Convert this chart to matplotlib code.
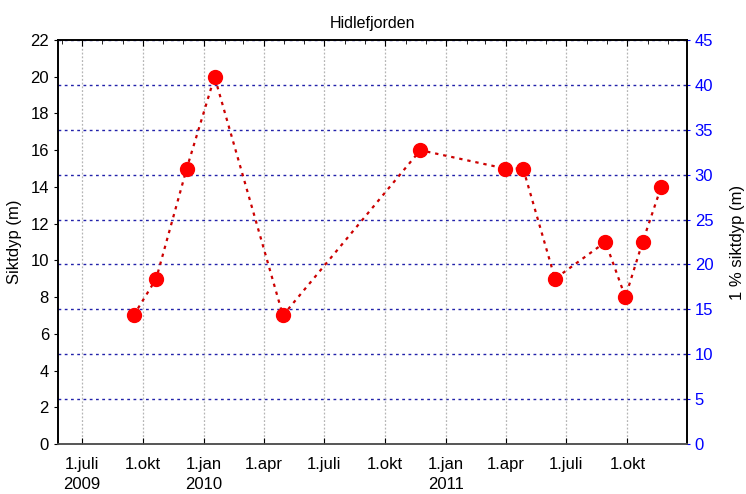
import datetime as dt
import matplotlib
matplotlib.use("Agg")
import matplotlib.pyplot as plt
import matplotlib.dates as mdates
from matplotlib.ticker import MultipleLocator, FixedLocator, FixedFormatter

plt.rcParams['font.family'] = ['Liberation Sans', 'DejaVu Sans']

# Siktdyp measurements, Hidlefjorden
dates = ["2009-09-17", "2009-10-21", "2009-12-06", "2010-01-17", "2010-04-30",
         "2010-11-23", "2011-03-31", "2011-04-27", "2011-06-14", "2011-08-29",
         "2011-09-28", "2011-10-24", "2011-11-21"]
siktdyp = [7, 9, 15, 20, 7, 16, 15, 15, 9, 11, 8, 11, 14]

tick_dates = ["2009-07-01", "2009-10-01", "2010-01-01", "2010-04-01", "2010-07-01",
              "2010-10-01", "2011-01-01", "2011-04-01", "2011-07-01", "2011-10-01"]
tick_labels = ["1.juli\n2009", "1.okt", "1.jan\n2010", "1.apr", "1.juli",
               "1.okt", "1.jan\n2011", "1.apr", "1.juli", "1.okt"]

x = [dt.datetime.fromisoformat(d) for d in dates]
xt = [mdates.date2num(dt.datetime.fromisoformat(d)) for d in tick_dates]

fig = plt.figure(figsize=(7.46, 4.94), dpi=100)
ax = fig.add_axes([0.0777, 0.1012, 0.8433, 0.8178])
ax2 = ax.twinx()

ax.set_xlim(dt.datetime(2009, 5, 26), dt.datetime(2011, 12, 30))
ax.set_ylim(0, 22)
ax2.set_ylim(0, 45)

# grid: gray vertical at major x ticks, blue horizontal at right axis ticks
for t in xt:
    ax.axvline(t, color='#b5b5b5', lw=0.9, ls=(0, (1.5, 1.5)), zorder=0)
for v in range(5, 46, 5):
    ax2.axhline(v, color='#2222aa', lw=1.0, ls=(0, (2, 2.5)), zorder=0)

ax.plot(x, siktdyp, ls=(0, (1.5, 2.2)), color='#cc0000', lw=1.6,
        marker='o', markersize=10, markerfacecolor='#ff0000',
        markeredgecolor='#ff0000', zorder=5)
ax.set_zorder(ax2.get_zorder() + 1)
ax.patch.set_visible(False)

ax.xaxis.set_major_locator(FixedLocator(xt))
ax.xaxis.set_major_formatter(FixedFormatter(tick_labels))
ax.xaxis.set_minor_locator(mdates.MonthLocator())
ax.tick_params(axis='x', which='major', direction='in', length=4, top=True,
               labelsize=12, pad=9)
ax.tick_params(axis='x', which='minor', direction='in', length=3, top=True,
               bottom=False)
for lbl in ax.get_xticklabels():
    lbl.set_linespacing(1.45)
ax.yaxis.set_major_locator(MultipleLocator(2))
ax.tick_params(axis='y', direction='out', length=3, labelsize=12)
ax2.yaxis.set_major_locator(MultipleLocator(5))
ax2.tick_params(axis='y', direction='out', length=2, labelsize=12,
                colors='#0000ff')

ax.set_ylabel("Siktdyp (m)", fontsize=12, labelpad=6)
ax2.set_ylabel("1 % siktdyp (m)", fontsize=12, color='black', labelpad=12)
ax.set_title("Hidlefjorden", fontsize=11.5, pad=9)

for a in (ax, ax2):
    for s in a.spines.values():
        s.set_linewidth(1.2)
    a.spines['bottom'].set_color('#555555')

fig.savefig("out.png", dpi=100)
